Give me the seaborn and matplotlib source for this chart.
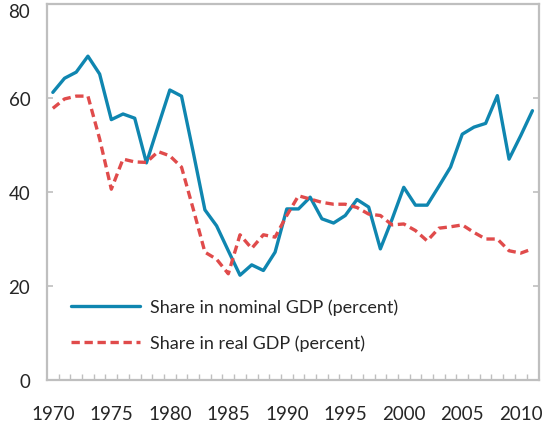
import matplotlib
matplotlib.use('Agg')
import numpy as np
import pandas as pd
import seaborn as sns
import matplotlib.pyplot as plt
import matplotlib.transforms as mtransforms

years = list(range(1970, 2012))
nominal = [61.2, 64.2, 65.5, 68.9, 65.1, 55.4, 56.6, 55.7, 46.2, 54.0,
           61.7, 60.4, 48.5, 36.2, 32.8, 27.5, 22.3, 24.5, 23.3, 27.2,
           36.4, 36.4, 38.9, 34.3, 33.4, 35.0, 38.4, 36.8, 27.9, 34.2,
           41.0, 37.2, 37.2, 41.2, 45.3, 52.3, 53.8, 54.6, 60.5, 47.0,
           52.0, 57.3]
real = [57.8, 59.8, 60.4, 60.4, 51.3, 40.6, 47.0, 46.4, 46.3, 48.6,
        47.7, 45.3, 36.4, 27.2, 25.7, 22.6, 30.9, 28.0, 30.9, 30.4,
        35.0, 39.2, 38.5, 37.8, 37.4, 37.4, 36.7, 35.3, 35.0, 33.0,
        33.2, 31.8, 29.6, 32.3, 32.6, 33.0, 31.4, 30.0, 30.0, 27.5,
        27.0, 27.9]
labels = ["Share in nominal GDP (percent)", "Share in real GDP (percent)"]
xtick_years = list(range(1970, 2011, 5))
yticks = [0, 20, 40, 60, 80]

df = pd.DataFrame({"year": years, labels[0]: nominal, labels[1]: real})

sns.set_style("white")
plt.rcParams['font.family'] = ['Lato', 'DejaVu Sans']

fig = plt.figure(figsize=(5.47, 4.27), dpi=100)
ax = fig.add_axes([0.0859, 0.1077, 0.9003, 0.8806])

sns.lineplot(data=df, x="year", y=labels[0], ax=ax, color="#0f86b0",
             lw=2.4, label=labels[0])
sns.lineplot(data=df, x="year", y=labels[1], ax=ax, color="#e04b4b",
             lw=2.4, dashes=(2.5, 1.4), label=labels[1])

grey = "#bfbfbf"
ax.set_xlim(1969.5, 2011.6)
ax.set_ylim(0, 80)
ax.set_xlabel("")
ax.set_ylabel("")
for s in ax.spines.values():
    s.set_visible(True)
    s.set_color(grey)
    s.set_linewidth(1.6)

ax.set_yticks(yticks)
ax.tick_params(axis='y', direction='in', length=4, width=1.2, color=grey,
               left=True, right=True, labelsize=13.5, pad=12)
ax.set_xticks(xtick_years)
ax.set_xticks([y + 0.5 for y in years[:-1]], minor=True)
ax.tick_params(axis='x', which='major', length=0, labelsize=13.5, pad=18)
ax.tick_params(axis='x', which='minor', direction='in', length=4, width=1.0,
               color=grey, bottom=True)

# nudge the top y label down so it stays inside the figure
top_lab = ax.get_yticklabels()[-1]
top_lab.set_transform(top_lab.get_transform() +
                      mtransforms.ScaledTranslation(0, -4 / 72, fig.dpi_scale_trans))

leg = ax.legend(loc='lower left', bbox_to_anchor=(0.035, 0.058), frameon=False,
                fontsize=13, handlelength=3.8, handletextpad=0.55,
                labelspacing=1.05, borderaxespad=0)

fig.savefig("out.png", dpi=100)
